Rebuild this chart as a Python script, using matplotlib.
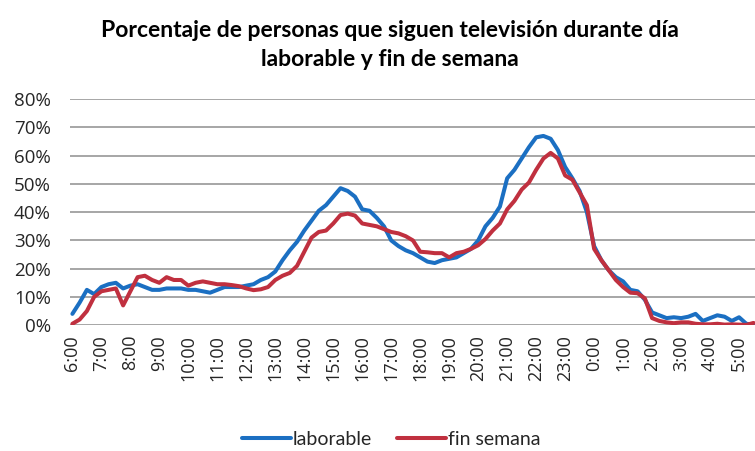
import numpy as np
import matplotlib
matplotlib.use("Agg")
import matplotlib.pyplot as plt
from matplotlib.ticker import FuncFormatter

# tick labels, one every hour (data is every 15 min starting 6:00)
hour_labels = ["6:00", "7:00", "8:00", "9:00", "10:00", "11:00", "12:00", "13:00",
               "14:00", "15:00", "16:00", "17:00", "18:00", "19:00", "20:00", "21:00",
               "22:00", "23:00", "0:00", "1:00", "2:00", "3:00", "4:00", "5:00"]

laborable = [4, 8, 12.5, 11, 13.5, 14.5, 15, 13, 14, 14.5,
             13.5, 12.5, 12.5, 13, 13, 13, 12.5, 12.5, 12, 11.5,
             12.5, 13.5, 13.5, 13.5, 14, 14.5, 16, 17, 19, 23,
             26.5, 29.5, 33.5, 37, 40.5, 42.5, 45.5, 48.5, 47.5, 45.5,
             41, 40.5, 38, 35, 30, 28, 26.5, 25.5, 24, 22.5,
             22, 23, 23.5, 24, 25.5, 27, 30, 35, 38, 42,
             52, 55, 59, 63, 66.5, 67, 66, 62, 56, 52,
             47.5, 40, 28, 23, 19.5, 17, 15.5, 12.5, 12, 9,
             4.5, 3.5, 2.5, 2.8, 2.5, 3, 4, 1.5, 2.5, 3.5,
             3, 1.5, 2.8, 0.5, 0.2]

fin_semana = [0.5, 2, 5, 10, 12, 12.5, 13, 7, 12, 17,
              17.5, 16, 15, 17, 16, 16, 14, 15, 15.5, 15,
              14.5, 14.5, 14.2, 13.8, 13, 12.4, 12.7, 13.5, 16, 17.5,
              18.5, 21, 26, 31, 33, 33.5, 36, 39, 39.5, 38.8,
              36, 35.5, 35, 34, 33, 32.5, 31.5, 30, 26, 25.8,
              25.5, 25.5, 24, 25.5, 26, 27, 28.3, 30.5, 33.5, 36,
              41, 44, 48, 50.5, 55, 59, 61, 59, 53, 51.5,
              47, 42.5, 27, 23, 19.5, 16, 13.5, 11.5, 11.3, 9.5,
              2.5, 1.5, 1, 0.7, 1, 1, 0.5, 0.3, 0.3, 0.5,
              0.2, 0.3, 0.2, 0.1, 0.8]

blue = "#1b6fc2"
red = "#c0303f"
txt = "#262626"

fig = plt.figure(figsize=(7.55, 4.51), dpi=100)
ax = fig.add_axes([0.093, 0.279, 0.907, 0.501])

x = np.arange(len(laborable))
ax.plot(x, laborable, color=blue, lw=2.9, label="laborable", solid_capstyle="round")
ax.plot(x, fin_semana, color=red, lw=2.9, label="fin semana", solid_capstyle="round")

ax.set_ylim(0, 80)
ax.set_yticks(np.arange(0, 81, 10))
ax.yaxis.set_major_formatter(FuncFormatter(lambda v, p: "%d%%" % v))
ax.set_xlim(-0.3, 94.2)
ax.set_xticks(np.arange(0, 4 * len(hour_labels), 4))
ax.set_xticklabels(hour_labels, rotation=90)

ax.grid(axis="y", color="#a6a6a6", lw=1.4)
ax.set_axisbelow(True)
for s in ax.spines.values():
    s.set_visible(False)
ax.tick_params(axis="both", length=0, colors=txt)
ax.tick_params(axis="y", pad=14, labelsize=13.5)
ax.tick_params(axis="x", pad=7, labelsize=13)
for lab in ax.get_xticklabels() + ax.get_yticklabels():
    lab.set_family("Open Sans")

fig.text(0.516, 0.9, "Porcentaje de personas que siguen televisión durante día\nlaborable y fin de semana",
         ha="center", va="center", fontsize=16.5, fontweight="bold", family="Lato",
         color="black", linespacing=1.45)

leg = fig.legend(loc="center", bbox_to_anchor=(0.518, 0.025), ncol=2, frameon=False,
                 handlelength=2.5, columnspacing=1.3, handletextpad=0.1,
                 prop={"family": "Lato", "size": 14})
for t in leg.get_texts():
    t.set_color(txt)

fig.savefig("out.png", dpi=100)
